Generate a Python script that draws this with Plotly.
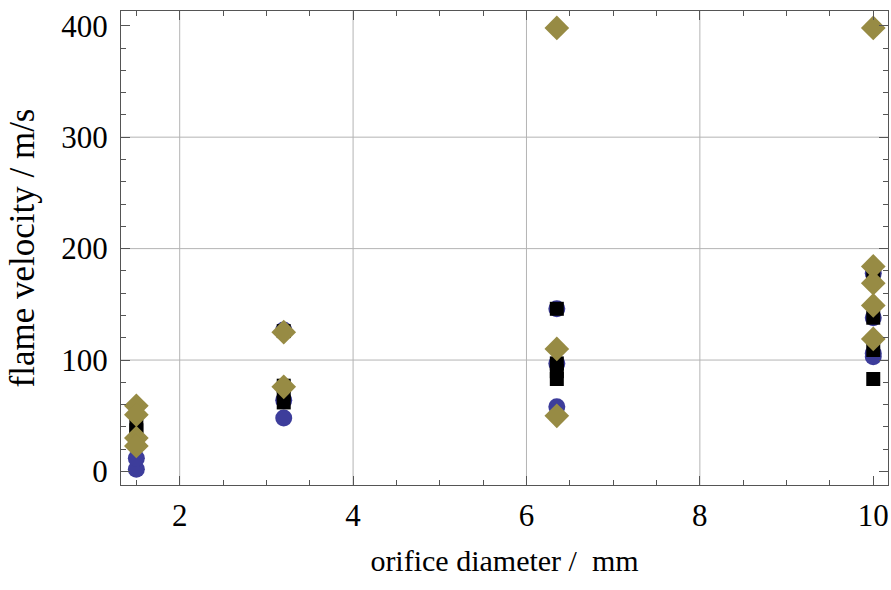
import plotly.graph_objects as go

# orifice diameters (mm)
circle_x = [1.5, 1.5, 3.2, 3.2, 3.2, 6.35, 6.35, 6.35, 10, 10, 10, 10]
circle_y = [2, 12, 127, 64, 48, 146, 97, 58, 178, 138, 106, 103]

square_x = [1.5, 1.5, 3.2, 3.2, 3.2, 3.2, 6.35, 6.35, 6.35, 6.35, 10, 10, 10, 10]
square_y = [41, 37, 126, 77, 70, 62, 146, 97, 90, 83, 176, 138, 109, 83]

diamond_x = [1.5, 1.5, 1.5, 1.5, 3.2, 3.2, 6.35, 6.35, 6.35, 10, 10, 10, 10, 10]
diamond_y = [59, 51, 30, 23, 125, 76, 398, 110, 50, 398, 184, 169, 149, 119]

grid_x = [2, 4, 6, 8]
grid_y = [100, 200, 300]

x_ticks = [2, 4, 6, 8, 10]
y_ticks = [0, 100, 200, 300, 400]

FONT = "'Liberation Serif', 'Times New Roman', Times, serif"
BLUE = "#3d3d9b"
BLACK = "#000000"
OLIVE = "#978b44"
FRAME = "#555555"

fig = go.Figure()
fig.add_trace(go.Scatter(x=circle_x, y=circle_y, mode="markers",
                         marker=dict(symbol="circle", size=17, color=BLUE, line=dict(width=0))))
fig.add_trace(go.Scatter(x=square_x, y=square_y, mode="markers",
                         marker=dict(symbol="square", size=14, color=BLACK, line=dict(width=0))))
fig.add_trace(go.Scatter(x=diamond_x, y=diamond_y, mode="markers",
                         marker=dict(symbol="diamond", size=19, color=OLIVE, line=dict(width=0))))

shapes = []
for gx in grid_x:
    shapes.append(dict(type="line", xref="x", yref="paper", x0=gx, x1=gx, y0=0, y1=1,
                       line=dict(color="#b4b4b4", width=1), layer="below"))
for gy in grid_y:
    shapes.append(dict(type="line", xref="paper", yref="y", x0=0, x1=1, y0=gy, y1=gy,
                       line=dict(color="#b4b4b4", width=1), layer="below"))

fig.update_layout(
    width=891, height=590,
    margin=dict(l=121, r=3, t=11, b=105),
    plot_bgcolor="white", paper_bgcolor="white",
    showlegend=False,
    shapes=shapes,
    font=dict(family=FONT, size=31, color="black"),
)
fig.update_xaxes(
    range=[1.323, 10.17], tickvals=x_ticks, ticktext=[str(v) for v in x_ticks],
    showgrid=False, zeroline=False, automargin=False,
    showline=True, linecolor=FRAME, linewidth=1, mirror="allticks",
    ticks="inside", ticklen=9, tickcolor=FRAME, tickwidth=1,
    minor=dict(dtick=0.5, tick0=0, ticks="inside", ticklen=5, tickcolor=FRAME, showgrid=False),
    ticklabelstandoff=3,
    title=dict(text="orifice diameter /  mm", font=dict(family=FONT, size=30), standoff=17),
)
fig.update_yaxes(
    range=[-12.1, 413.2], tickvals=y_ticks, ticktext=[str(v) for v in y_ticks],
    showgrid=False, zeroline=False, automargin=False,
    showline=True, linecolor=FRAME, linewidth=1, mirror="allticks",
    ticks="inside", ticklen=9, tickcolor=FRAME, tickwidth=1,
    minor=dict(dtick=20, tick0=0, ticks="inside", ticklen=5, tickcolor=FRAME, showgrid=False),
    ticklabelstandoff=6,
    title=dict(text="flame velocity / m/s", font=dict(family=FONT, size=35), standoff=16),
)

# remove the browser's default 8px body margin so the figure fills the window exactly
fig.write_html("out.html",
               config={"displayModeBar": False},
               post_script="document.body.style.margin='0';document.body.style.overflow='hidden';")
